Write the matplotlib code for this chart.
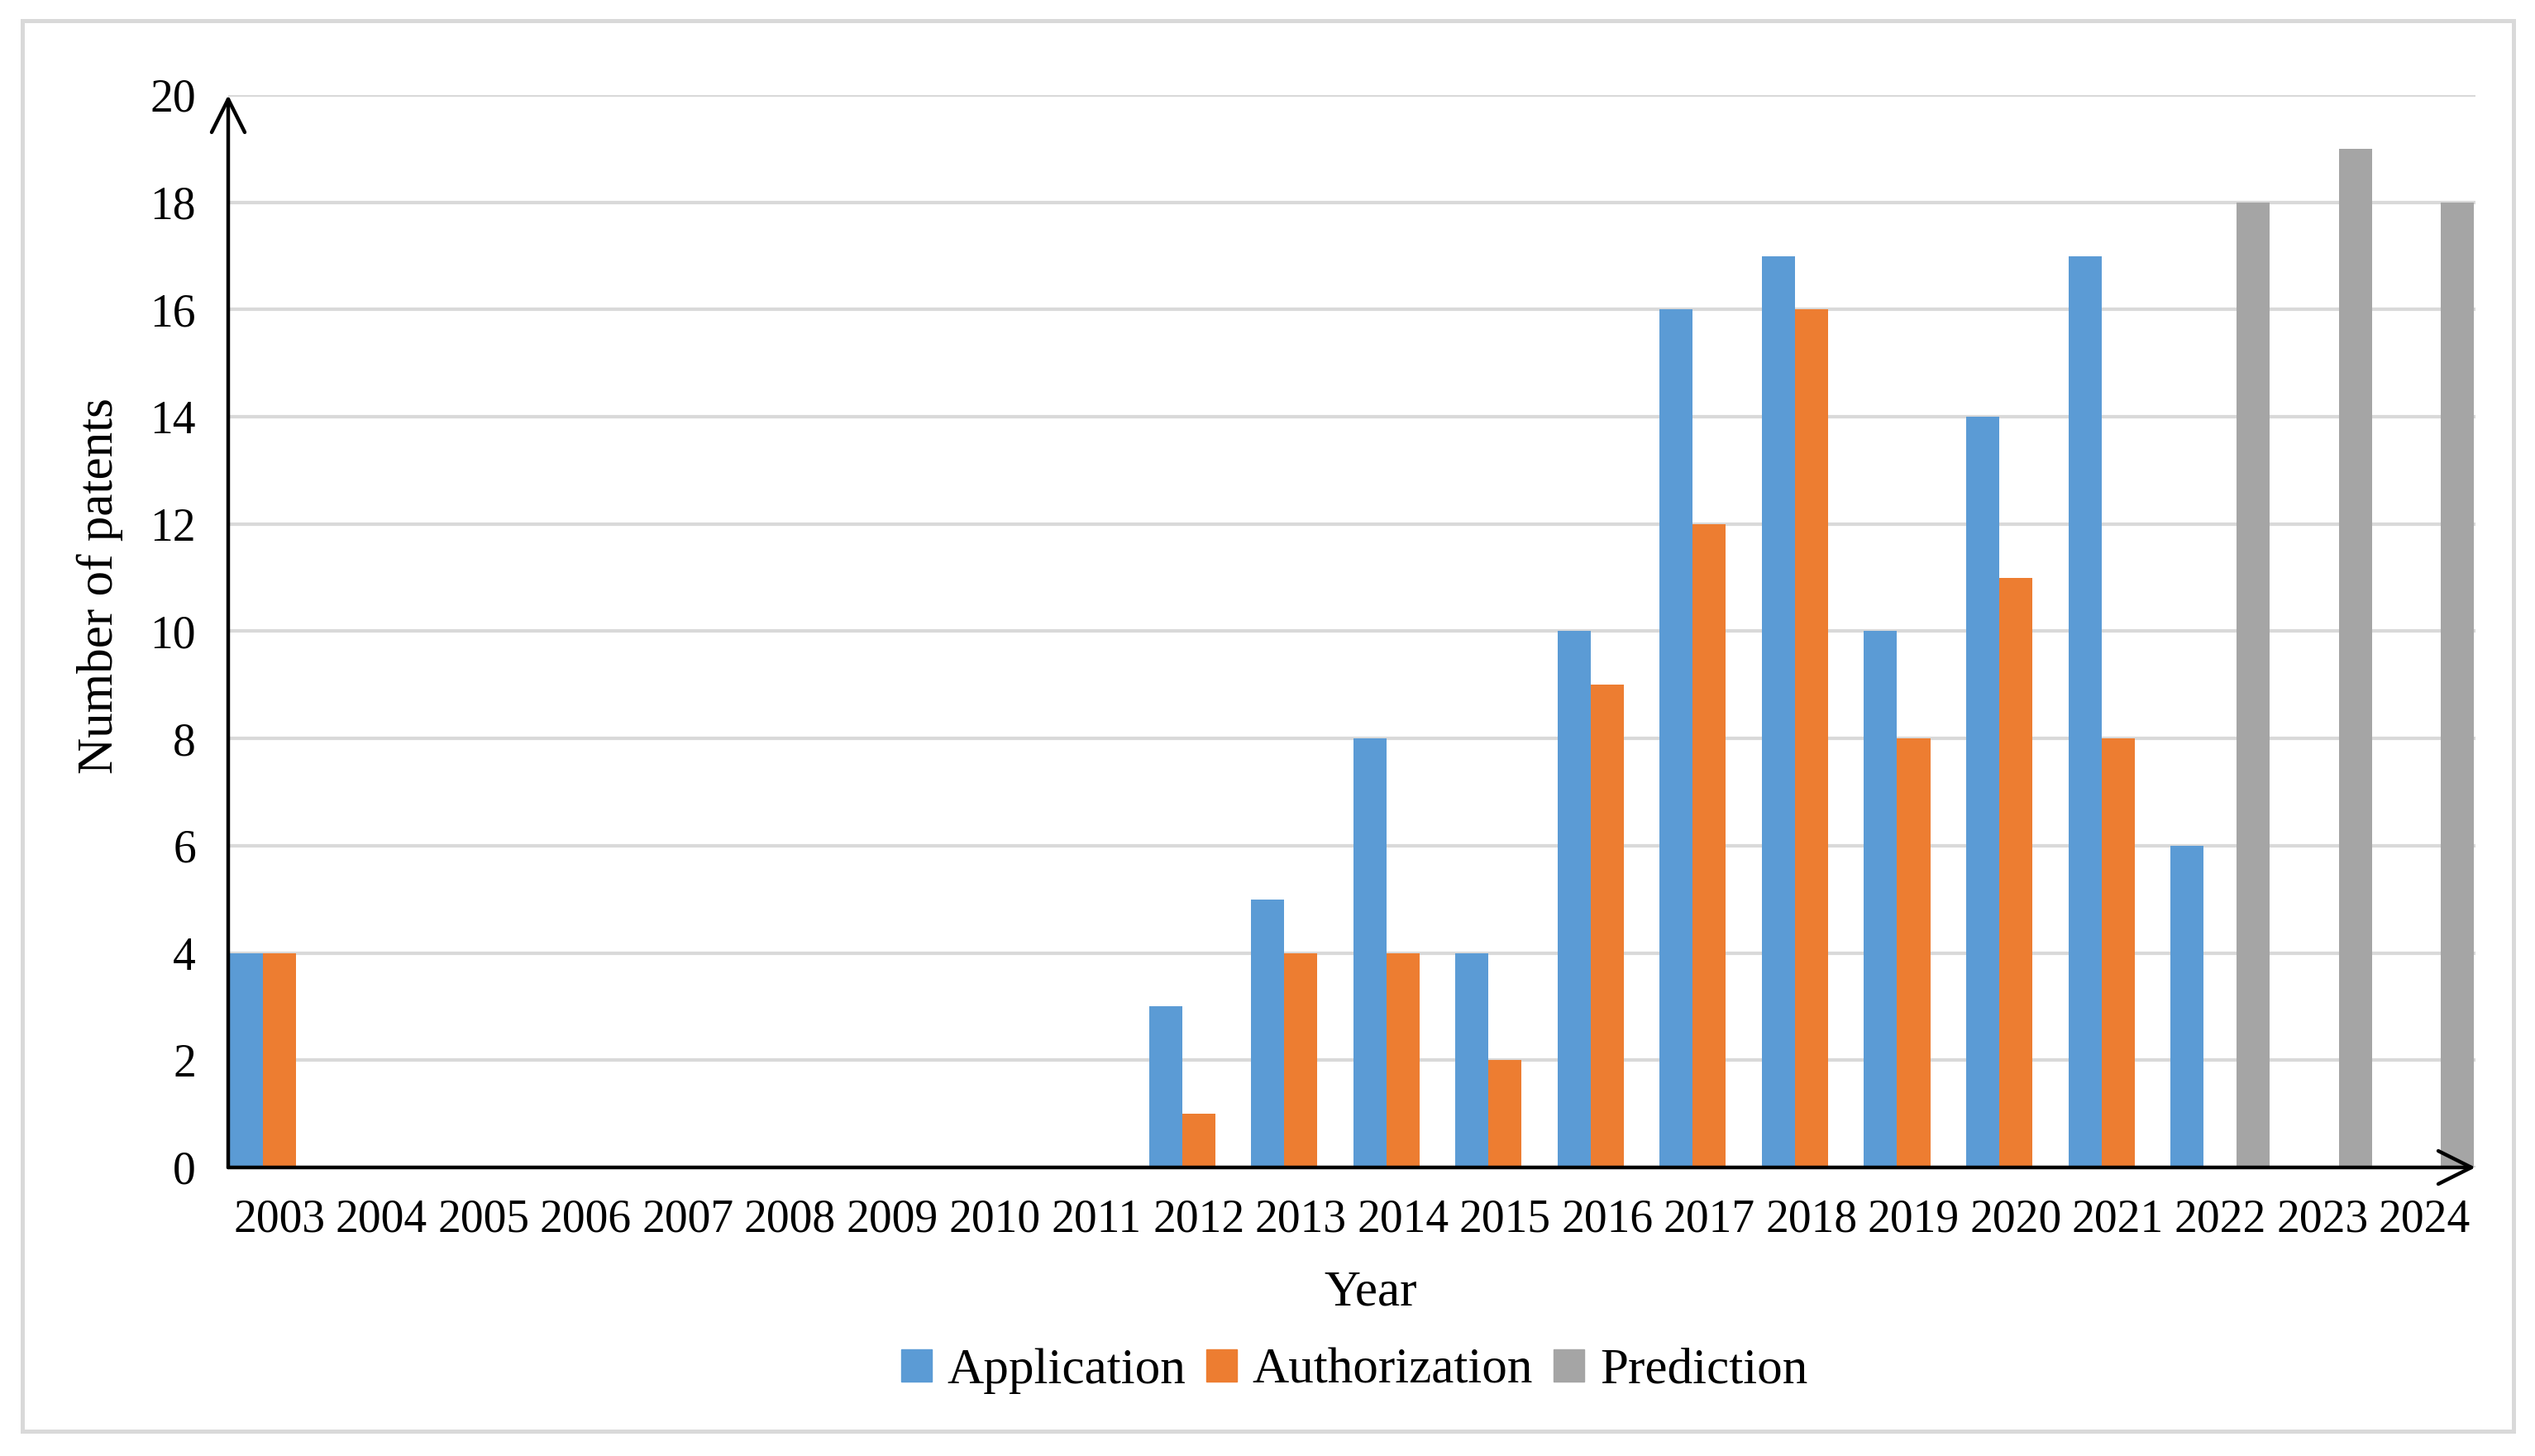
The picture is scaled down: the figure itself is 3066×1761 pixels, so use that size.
import numpy as np
from matplotlib import pyplot as plt
from matplotlib.patches import Rectangle, Patch

years = [str(y) for y in range(2003, 2025)]
application = [4, 0, 0, 0, 0, 0, 0, 0, 0, 3, 5, 8, 4, 10, 16, 17, 10, 14, 17, 6, 0, 0]
authorization = [4, 0, 0, 0, 0, 0, 0, 0, 0, 1, 4, 4, 2, 9, 12, 16, 8, 11, 8, 0, 0, 0]
prediction = [0, 0, 0, 0, 0, 0, 0, 0, 0, 0, 0, 0, 0, 0, 0, 0, 0, 0, 0, 18, 19, 18]
yticks = list(range(0, 21, 2))

BLUE = '#5B9BD5'
ORANGE = '#ED7D31'
GRAY = '#A5A5A5'
FRAME = '#D9D9D9'

plt.rcParams['font.family'] = ['Liberation Serif', 'DejaVu Serif']
fs = 40   # tick labels
fl = 44   # axis titles and legend

W, H = 3066, 1761
fig = plt.figure(figsize=(W / 100, H / 100), dpi=100)
ax = fig.add_axes([276 / W, 1 - 1412 / H, (2994 - 276) / W, (1412 - 115) / H])

x = np.arange(len(years))
bw = 0.324
ax.bar(x - bw, application, bw, color=BLUE, zorder=2)
ax.bar(x, authorization, bw, color=ORANGE, zorder=2)
ax.bar(x + bw, prediction, bw, color=GRAY, zorder=2)

ax.set_xlim(-0.5, len(years) - 0.5)
ax.set_ylim(0, 20)
ax.set_yticks(yticks)
ax.set_xticks(x)
ax.set_xticklabels(years)
ax.tick_params(axis='both', length=0, labelsize=fs)
ax.tick_params(axis='y', pad=28)
ax.tick_params(axis='x', pad=27)
ax.yaxis.grid(True, color=FRAME, lw=3, zorder=0)
ax.set_axisbelow(True)
for s in ax.spines.values():
    s.set_visible(False)

# axes with arrows
arrow = dict(arrowstyle='->,head_length=0.4,head_width=0.2', mutation_scale=72,
             lw=3.2, color='black', shrinkA=0, shrinkB=0)
ax.annotate('', xy=(0, 1), xytext=(0, 0), xycoords='axes fraction', arrowprops=arrow,
            annotation_clip=False, zorder=5)
ax.annotate('', xy=(1, 0), xytext=(0, 0), xycoords='axes fraction', arrowprops=arrow,
            annotation_clip=False, zorder=5)

fig.text(1658 / W, 1 - 1564 / H, 'Year', ha='center', va='center', fontsize=fl)
fig.text(121 / W, 1 - 708 / H, 'Number of patents', ha='center', va='center',
         rotation=90, fontsize=fl)

handles = [Patch(color=BLUE, label='Application'),
           Patch(color=ORANGE, label='Authorization'),
           Patch(color=GRAY, label='Prediction')]
fig.legend(handles=handles, loc='center', bbox_to_anchor=(1638 / W, 1 - 1658 / H),
           ncol=3, frameon=False, fontsize=fl, handlelength=0.6, handleheight=0.6,
           handletextpad=0.31, columnspacing=0.41, borderaxespad=0)

fig.patches.append(Rectangle((27 / W, 1 - 1731 / H), (3040 - 27) / W, (1731 - 25) / H,
                             transform=fig.transFigure, fill=False, ec=FRAME, lw=3.6))

fig.savefig('out.png', dpi=100)
